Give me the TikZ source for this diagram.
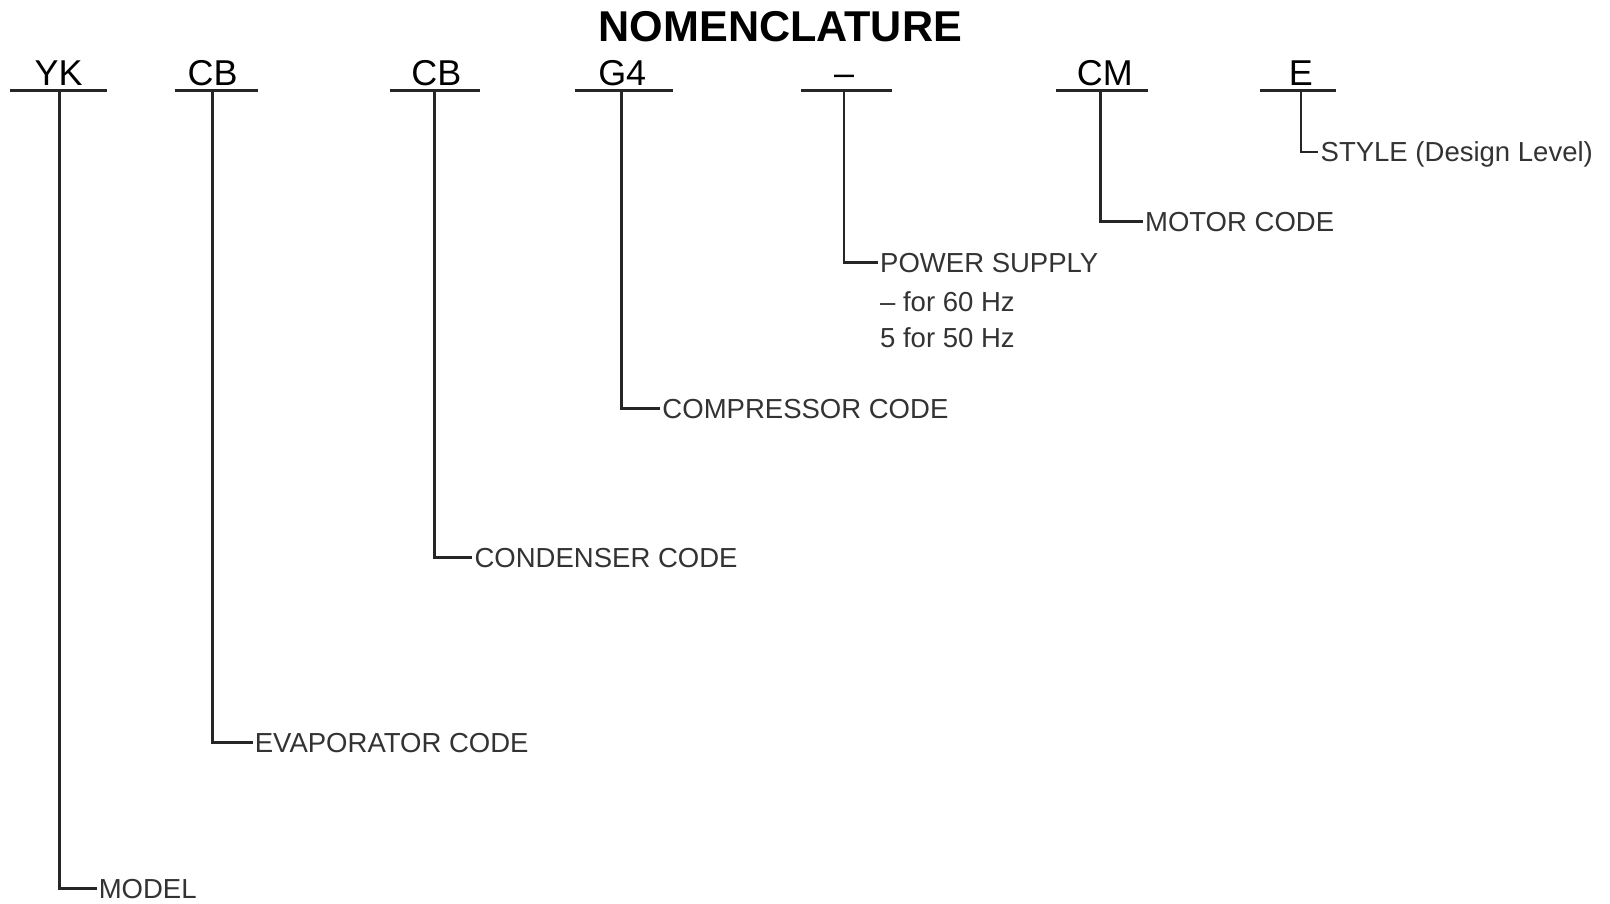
\documentclass[tikz,border=0pt]{standalone}
\usepackage{fontspec}
\setmainfont{Liberation Sans}
\begin{document}
\begin{tikzpicture}[x=1pt,y=-1pt,
  bar/.style={line width=2.8pt,draw=black!85},
  lead/.style={line width=2.8pt,draw=black!85},
  code/.style={anchor=base,inner sep=0pt,font=\fontsize{35}{40}\selectfont},
  lab/.style={anchor=west,inner xsep=2pt,inner ysep=0pt,text height=19.2pt,text depth=0pt,
    text=black!80,font=\fontsize{26.8}{32}\selectfont},
  sub/.style={anchor=base west,inner xsep=2pt,inner ysep=0pt,text=black!80,font=\fontsize{26.8}{32}\selectfont},
  ttl/.style={anchor=base,inner sep=0pt,font=\bfseries\fontsize{42}{48}\selectfont}]
\useasboundingbox (0,0) rectangle (1568,880);
\node[ttl] (title) at (760,40) {NOMENCLATURE};
% codes
\node[code] (k1) at (57,83) {YK};
\node[code] (k2) at (207,83) {CB};
\node[code] (k3) at (425,83) {CB};
\node[code] (k4) at (606,83) {G4};
\node[code] (k5) at (822,83) {--};
\node[code] (k6) at (1076,83) {CM};
\node[code] (k7) at (1267,83) {E};
% bar ends and joints
\coordinate (a1) at (10,88);   \coordinate (e1) at (104,88);  \coordinate (j1) at (58,88);
\coordinate (a2) at (170,88);  \coordinate (e2) at (251,88);  \coordinate (j2) at (207,88);
\coordinate (a3) at (380,88);  \coordinate (e3) at (467,88);  \coordinate (j3) at (423,88);
\coordinate (a4) at (560,88);  \coordinate (e4) at (655,88);  \coordinate (j4) at (605,88);
\coordinate (a5) at (780,88);  \coordinate (e5) at (869,88);  \coordinate (j5) at (822,88);
\coordinate (a6) at (1028,88); \coordinate (e6) at (1118,88); \coordinate (j6) at (1072,88);
\coordinate (a7) at (1227,88); \coordinate (e7) at (1301,88); \coordinate (j7) at (1267,88);
% labels
\node[lab] (l1) at (94,865) {MODEL};
\node[lab] (l2) at (246,723) {EVAPORATOR CODE};
\node[lab] (l3) at (460,543) {CONDENSER CODE};
\node[lab] (l4) at (643,398) {COMPRESSOR CODE};
\node[lab] (l5) at (855,256) {POWER SUPPLY};
\node[sub] (l5b) at (855,303) {-- for 60 Hz};
\node[sub] (l5c) at (855,338) {5 for 50 Hz};
\node[lab] (l6) at (1113,216) {MOTOR CODE};
\node[lab] (l7) at (1284,148) {STYLE (Design Level)};
% bars
\foreach \i in {1,...,7}{
  \draw[bar] (a\i) -- (e\i);
  \draw[lead] (j\i) |- (l\i.west);
}
\end{tikzpicture}
\end{document}
